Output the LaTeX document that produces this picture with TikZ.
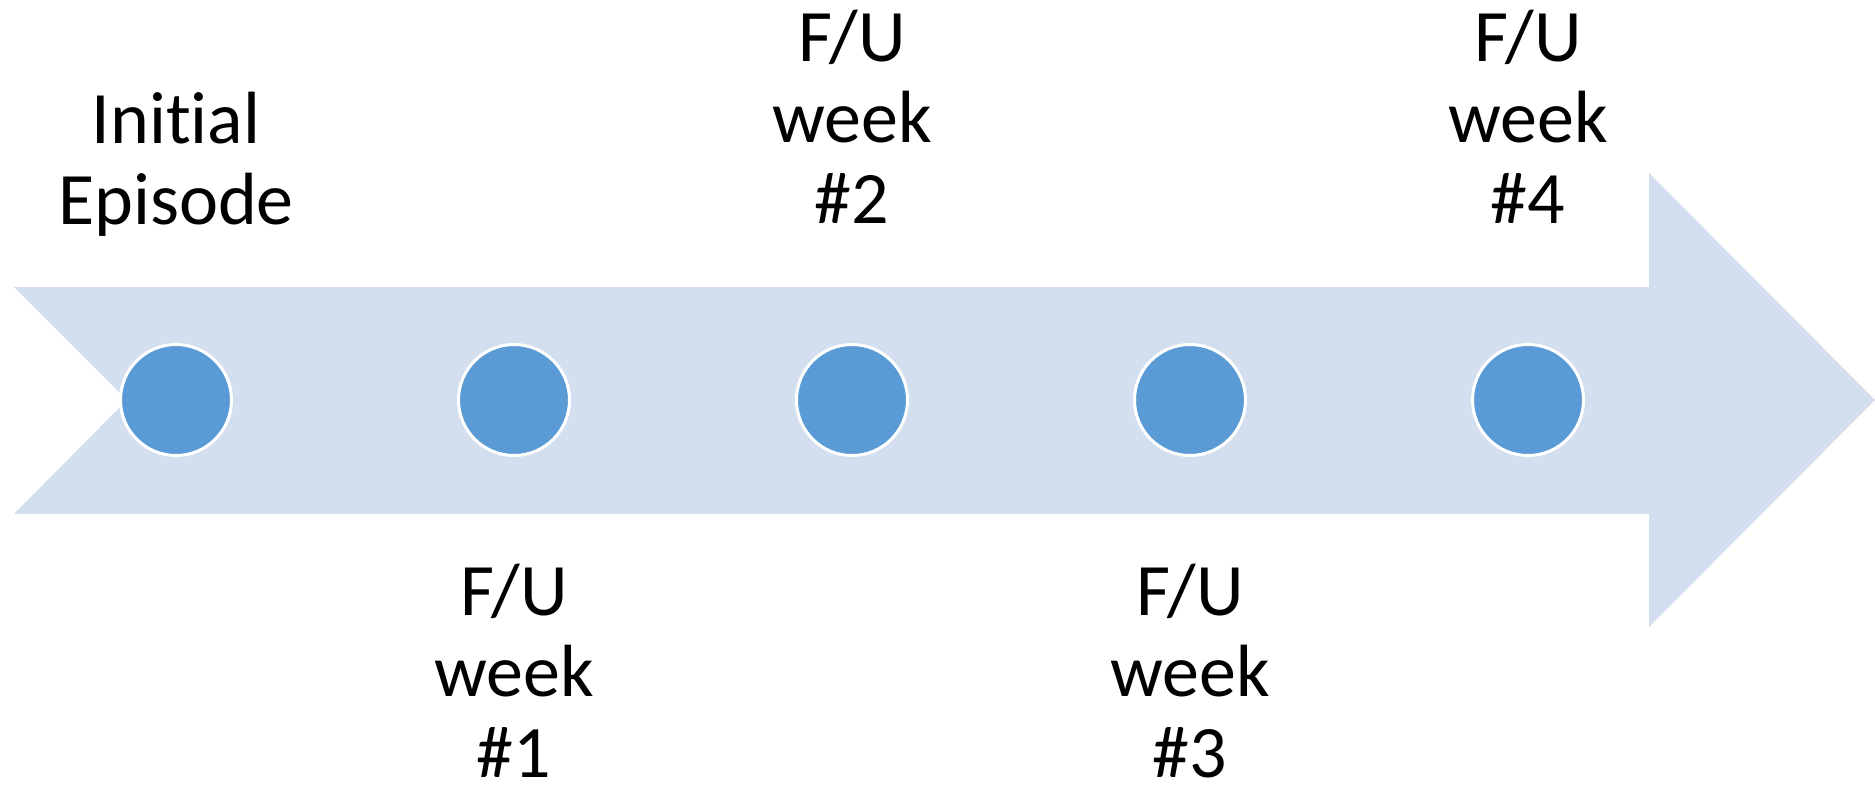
\documentclass[tikz,border=0pt]{standalone}
\usepackage{fontspec}
\setmainfont{Carlito}[Ligatures={NoCommon,NoContextual}]
\definecolor{bandblue}{HTML}{D3DEEF}
\definecolor{dotblue}{HTML}{5B9BD5}
\tikzset{
  milestone/.style={circle, fill=dotblue, draw=white, line width=3pt,
    minimum size=111pt, inner sep=0pt},
  % anchored at the baseline of the last line
  caption/.style={align=center, anchor=base, inner sep=0pt, text depth=0pt,
    font=\fontsize{74pt}{81pt}\selectfont}
}
\begin{document}
\begin{tikzpicture}[x=1pt, y=-1pt]
  \useasboundingbox (0,0) rectangle (1875,785);
  % timeline band with notched tail and arrow head
  \fill[bandblue] (14,287) -- (1649,287) -- (1649,173) -- (1875,400)
    -- (1649,627) -- (1649,514) -- (14,514) -- (127,400) -- cycle;
  % milestones
  \node[milestone] (m0) at (176,400) {};
  \node[milestone] (m1) at (514,400) {};
  \node[milestone] (m2) at (852,400) {};
  \node[milestone] (m3) at (1190,400) {};
  \node[milestone] (m4) at (1528,400) {};
  % labels
  \node[caption] (l0) at (176,224) {Initial\\Episode};
  \node[caption] (l1) at (514,777) {F/U\\week\\\#1};
  \node[caption] (l2) at (852,223) {F/U\\week\\\#2};
  \node[caption] (l3) at (1190,777) {F/U\\week\\\#3};
  \node[caption] (l4) at (1528,223) {F/U\\week\\\#4};
\end{tikzpicture}
\end{document}
